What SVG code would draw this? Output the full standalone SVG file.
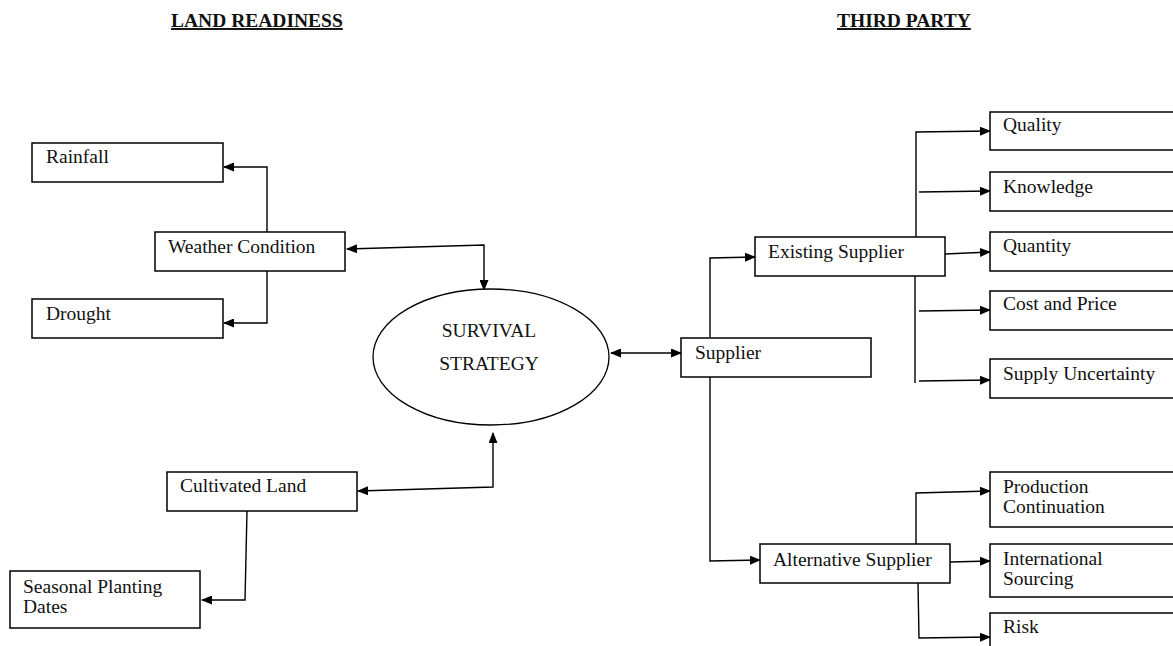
<svg xmlns="http://www.w3.org/2000/svg" width="1173" height="646" viewBox="0 0 1173 646">
<defs>
<marker id="ah" markerUnits="userSpaceOnUse" markerWidth="11" markerHeight="9" refX="10" refY="4.5" orient="auto-start-reverse">
<path d="M0,0 L11,4.5 L0,9 z" fill="#000"/>
</marker>
<style>
.box{fill:#fff;stroke:#000;stroke-width:1.5}
.t{font-family:"Liberation Serif","Times New Roman",serif;font-size:19.5px;fill:#111}
.h{font-family:"Liberation Serif","Times New Roman",serif;font-size:19.5px;font-weight:bold;fill:#111;text-decoration:underline}
.c{fill:none;stroke:#000;stroke-width:1.4}
.a{marker-end:url(#ah)}
.b{marker-start:url(#ah);marker-end:url(#ah)}
</style>
</defs>
<rect width="1173" height="646" fill="#fff"/>
<text class="h" x="171" y="27">LAND READINESS</text>
<text class="h" x="837" y="27">THIRD PARTY</text>
<g id="connectors">
<path class="c b" d="M347,249 L484,245 L484,290"/>
<path class="c a" d="M267,232 L267,167 L224,167"/>
<path class="c a" d="M267,271 L267,323 L224,323"/>
<path class="c b" d="M358,491 L493,487 L493,433"/>
<path class="c a" d="M247,511 L245,600 L202,600"/>
<path class="c b" d="M611,353 L681,353"/>
<path class="c a" d="M710,337 L710,258 L755,257"/>
<path class="c a" d="M710,377 L710,561 L760,560"/>
<path class="c a" d="M916,237 L916,132 L990,131"/>
<path class="c a" d="M919,192 L990,191"/>
<path class="c a" d="M945,254 L990,252"/>
<path class="c" d="M915,276 L915,383"/>
<path class="c a" d="M919,311 L990,310"/>
<path class="c a" d="M919,381 L990,380"/>
<path class="c a" d="M916,544 L916,493 L990,491"/>
<path class="c a" d="M950,562 L990,561"/>
<path class="c a" d="M918,583 L919,638 L990,637"/>
</g>
<g id="rainfall"><rect class="box" x="32" y="143" width="191" height="39"/><text class="t" x="46" y="163">Rainfall</text></g>
<g id="weather"><rect class="box" x="155" y="232" width="190" height="39"/><text class="t" x="168" y="253">Weather Condition</text></g>
<g id="drought"><rect class="box" x="32" y="299" width="191" height="39"/><text class="t" x="46" y="320">Drought</text></g>
<g id="survival"><ellipse cx="491" cy="357" rx="118" ry="68" fill="#fff" stroke="#000" stroke-width="1.3"/><text class="t" x="489" y="337" text-anchor="middle">SURVIVAL</text><text class="t" x="489" y="370" text-anchor="middle">STRATEGY</text></g>
<g id="cultivated"><rect class="box" x="167" y="472" width="190" height="39"/><text class="t" x="180" y="492">Cultivated Land</text></g>
<g id="seasonal"><rect class="box" x="10" y="571" width="190" height="57"/><text class="t" x="23" y="593">Seasonal Planting</text><text class="t" x="23" y="613">Dates</text></g>
<g id="supplier"><rect class="box" x="681" y="338" width="190" height="39"/><text class="t" x="695" y="359">Supplier</text></g>
<g id="existing"><rect class="box" x="755" y="237" width="190" height="39"/><text class="t" x="768" y="258">Existing Supplier</text></g>
<g id="alternative"><rect class="box" x="760" y="544" width="190" height="39"/><text class="t" x="773" y="566">Alternative Supplier</text></g>
<g id="quality"><rect class="box" x="990" y="112" width="200" height="38"/><text class="t" x="1003" y="131">Quality</text></g>
<g id="knowledge"><rect class="box" x="990" y="172" width="200" height="39"/><text class="t" x="1003" y="193">Knowledge</text></g>
<g id="quantity"><rect class="box" x="990" y="232" width="200" height="39"/><text class="t" x="1003" y="252">Quantity</text></g>
<g id="cost"><rect class="box" x="990" y="291" width="200" height="39"/><text class="t" x="1003" y="310">Cost and Price</text></g>
<g id="uncertainty"><rect class="box" x="990" y="359" width="200" height="39"/><text class="t" x="1003" y="380">Supply Uncertainty</text></g>
<g id="production"><rect class="box" x="990" y="472" width="200" height="55"/><text class="t" x="1003" y="493">Production</text><text class="t" x="1003" y="513">Continuation</text></g>
<g id="international"><rect class="box" x="990" y="544" width="200" height="53"/><text class="t" x="1003" y="565">International</text><text class="t" x="1003" y="585">Sourcing</text></g>
<g id="risk"><rect class="box" x="990" y="613" width="200" height="50"/><text class="t" x="1003" y="633">Risk</text></g>
</svg>
